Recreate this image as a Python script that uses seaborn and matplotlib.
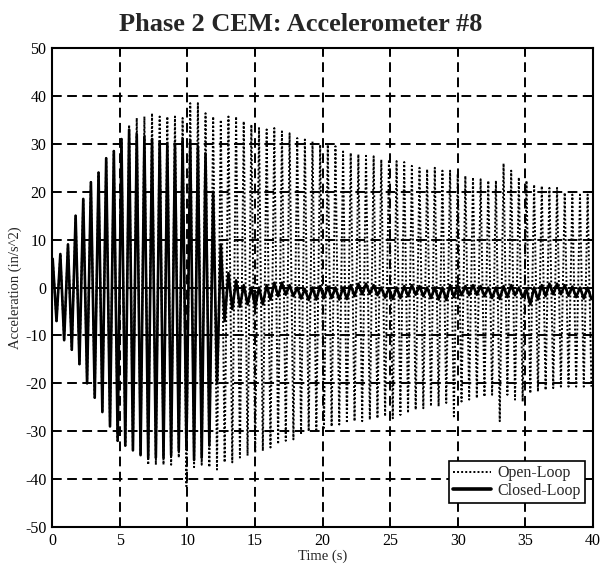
import matplotlib
matplotlib.use('Agg')
import matplotlib.pyplot as plt
import seaborn as sns
import numpy as np
import pandas as pd

# peak / trough of every cycle (in/s^2)
open_upper = [6, 7, 9, 15, 18.5, 22, 24, 27, 28.5, 31,
              34, 35.4, 35.7, 36.4, 35.7, 35.7, 35.7, 35.4, 38.5, 38.5,
              36.4, 35.7, 35, 35.7, 35.7, 34.7, 34, 33.3, 33, 33.3,
              32.6, 32.2, 31.2, 30.9, 30.5, 29.8, 29.8, 29.5, 28.4, 28.1,
              27.8, 27.5, 27.4, 26.7, 26.7, 26.4, 26.2, 25.4, 25, 24.7,
              25, 24.4, 24.4, 23.7, 23.3, 23, 22.6, 22.3, 22.3, 25.9,
              24.4, 23, 22.3, 21.5, 21.2, 20.8, 20.8, 19.8, 19.4, 19.4,
              19.4]
open_lower = [-7, -11, -13, -16, -20, -23, -26, -29, -32, -33,
              -34, -35, -37, -37, -37, -37, -35.5, -41.5, -37.5, -37,
              -37.5, -38, -36.5, -36.5, -35.5, -35.1, -34.5, -34.1, -33.4, -32.7,
              -32, -31.7, -30.7, -30, -29.7, -29.3, -29, -28.6, -28.3, -27.9,
              -27.9, -27.6, -27.3, -26.9, -27.3, -26.6, -26.2, -25.5, -25.2, -24.8,
              -24.8, -24.1, -26.9, -23.8, -23.4, -23.1, -22.8, -22.4, -27.9, -22.4,
              -23.4, -23.8, -22.1, -21.7, -21.4, -21, -20.7, -20.7, -20.7, -20.7,
              -20.7]
closed_upper = [6, 7, 9, 15, 18.5, 22, 24, 27, 28.5, 31,
                33, 32, 31.5, 31, 30.5, 30, 30, 31, 30.5, 29.5,
                28, 20, 9, 3, 1.5, 0.5, 0, 0, 0.5, 1,
                1, 0.5, 0, -0.3, 0, 0.3, 0.2, 0, 0, 0.5,
                0.8, 0.8, 0.5, 0, -0.2, 0, 0.3, 0.5, 0.3, 0,
                0, 0, 0.5, 0.5, 0.3, 0.5, 0.3, 0, 0, 0.3,
                0.5, 0, -0.5, 0, 0.5, 0.8, 0.8, 0.5, 0.2, 0,
                0]
closed_lower = [-7, -11, -13, -16, -20, -23, -26, -29, -32, -33,
                -34, -35, -35.5, -35.5, -35.5, -35, -34, -33.5, -36, -35.5,
                -33, -20, -7, -4.5, -4, -3.5, -4, -3.5, -2.5, -1.8,
                -1.5, -1.8, -2.3, -2.6, -2.5, -2.2, -2.2, -2.5, -2.4, -1.8,
                -1.4, -1.3, -1.6, -2.1, -2.4, -2.2, -1.8, -1.5, -1.8, -2.2,
                -2.5, -2.6, -2.0, -1.6, -1.6, -1.5, -1.8, -2.2, -2.4, -2.0,
                -1.6, -2.0, -3.5, -2.5, -1.8, -1.4, -1.4, -1.7, -2.0, -2.3,
                -2.4]

t_first = 0.05   # s, time of first peak
period = 0.565   # s, one oscillation cycle


def zigzag(upper, lower, name):
    n = len(upper)
    t_pk = t_first + period * np.arange(n)
    t = np.empty(2 * n)
    y = np.empty(2 * n)
    t[0::2] = t_pk
    t[1::2] = t_pk + period / 2
    y[0::2] = upper
    y[1::2] = lower
    return pd.DataFrame({'Time': t, 'Accel': y, 'Series': name})


df_open = zigzag(open_upper, open_lower, 'Open-Loop')
df_closed = zigzag(closed_upper, closed_lower, 'Closed-Loop')

sns.set_style('white')
plt.rcParams['font.family'] = ['Liberation Serif', 'DejaVu Serif']
plt.rcParams['axes.unicode_minus'] = False

fig = plt.figure(figsize=(6.02, 5.81), dpi=100)
ax = fig.add_axes([0.0864, 0.0929, 0.8987, 0.8244])

sns.lineplot(data=df_open, x='Time', y='Accel', ax=ax, color='black',
             linewidth=1.4, linestyle=(0, (1, 1.1)), estimator=None,
             label='Open-Loop')
sns.lineplot(data=df_closed, x='Time', y='Accel', ax=ax, color='black',
             linewidth=1.9, estimator=None, label='Closed-Loop')

ax.set_xlim(0, 40)
ax.set_ylim(-50, 50)
ax.set_xticks(np.arange(0, 41, 5))
ax.set_yticks(np.arange(-50, 51, 10))
ax.grid(True, color='black', linestyle=(0, (5, 2.8)), linewidth=1.4)
ax.tick_params(direction='in', top=True, right=True, length=5, width=1.2,
               labelsize=11.5, pad=4, colors='black')
for s in ax.spines.values():
    s.set_color('black')
    s.set_linewidth(1.5)

ax.set_xlabel('Time (s)', fontsize=10.5, labelpad=1)
ax.set_ylabel('Acceleration (in/s^2)', fontsize=10.5, labelpad=2)
fig.suptitle('Phase 2 CEM: Accelerometer #8', fontsize=19, fontweight='bold',
             x=0.5, y=0.978)

leg = ax.legend(loc='lower right', bbox_to_anchor=(0.985, 0.05), fontsize=11.5,
                frameon=True, fancybox=False, edgecolor='black', framealpha=1,
                handlelength=2.4, labelspacing=0.1, borderpad=0.25,
                handletextpad=0.4, borderaxespad=0)
leg.get_frame().set_linewidth(1.2)
leg.get_lines()[1].set_linewidth(2.6)

fig.savefig('out.png', dpi=100)
